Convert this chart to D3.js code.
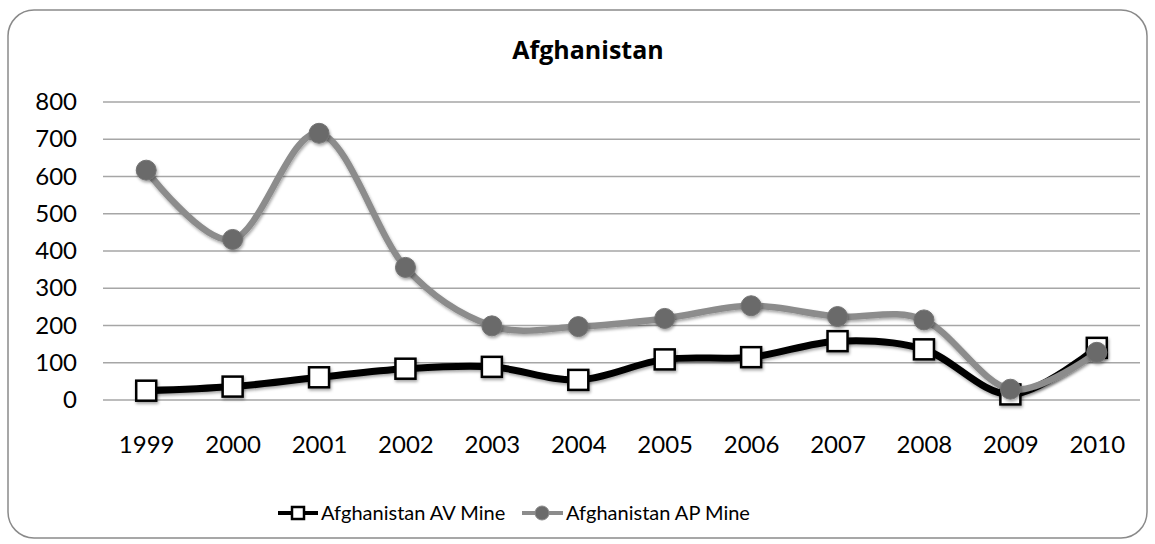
<!DOCTYPE html>
<html>
<head>
<meta charset="utf-8">
<script src="https://cdn.jsdelivr.net/npm/d3@7"></script>
<style>
body { margin:0; background:#fff; }
text { font-family: Lato, "Open Sans", sans-serif; fill:#000; }
</style>
</head>
<body>
<svg id="chart"></svg>
<script>
var screen = {width:1155,height:544}
var margins = {top:102,right:15,left:103,bottom:144}

// data
var years = ["1999","2000","2001","2002","2003","2004","2005","2006","2007","2008","2009","2010"]
var avMine = [25,36,61,84,89,54,109,115,158,136,15,140]
var apMine = [617,431,716,356,199,197,219,253,224,215,29,128]
var yTicks = [0,100,200,300,400,500,600,700,800]
var seriesNames = ["Afghanistan AV Mine","Afghanistan AP Mine"]

var svg = d3.select("#chart")
    .attr("width",screen.width)
    .attr("height",screen.height)

var defs = svg.append("defs")
defs.append("filter")
    .attr("id","shadow")
    .attr("x","-30%").attr("y","-30%")
    .attr("width","160%").attr("height","160%")
    .append("feDropShadow")
    .attr("dx",1).attr("dy",2)
    .attr("stdDeviation",1.8)
    .attr("flood-color","#000")
    .attr("flood-opacity",0.35)

// outer frame
svg.append("rect")
    .attr("x",8).attr("y",10)
    .attr("width",1139).attr("height",528)
    .attr("rx",26).attr("ry",26)
    .attr("fill","#fff")
    .attr("stroke","#8a8a8a")
    .attr("stroke-width",1.5)

svg.append("text")
    .attr("x",588).attr("y",59)
    .attr("text-anchor","middle")
    .style("font-family","'Open Sans', sans-serif")
    .style("font-size","25px")
    .style("font-weight","bold")
    .text("Afghanistan")

var width = 1140 - margins.left
var height = 400 - margins.top

var g = svg.append("g")
    .attr("transform","translate("+margins.left+","+margins.top+")")

var xScale = d3.scalePoint()
    .domain(years)
    .range([0,width])
    .padding(0.5)
var yScale = d3.scaleLinear()
    .domain([0,800])
    .range([height,0])

// gridlines
g.append("g")
    .selectAll("line")
    .data(yTicks)
    .enter()
    .append("line")
    .attr("x1",0).attr("x2",width)
    .attr("y1",function(d){return yScale(d)})
    .attr("y2",function(d){return yScale(d)})
    .attr("stroke","#a6a6a6")
    .attr("stroke-width",1.5)

var yAxis = d3.axisLeft(yScale).tickValues(yTicks).tickSize(0).tickPadding(26)
g.append("g").call(yAxis)
    .call(function(s){s.select(".domain").remove()})
    .selectAll("text").style("font-size","24px").attr("fill","#000")

var xAxis = d3.axisBottom(xScale).tickSize(0).tickPadding(36)
g.append("g")
    .attr("transform","translate(0,"+height+")")
    .call(xAxis)
    .call(function(s){s.select(".domain").remove()})
    .selectAll("text").style("font-size","24px").attr("fill","#000")

var line = d3.line()
    .x(function(d,i){return xScale(years[i])})
    .y(function(d){return yScale(d)})
    .curve(d3.curveCardinal.tension(0))

// AV series
g.append("path")
    .datum(avMine)
    .attr("d",line)
    .attr("fill","none")
    .attr("stroke","#000")
    .attr("stroke-width",7)
    .attr("filter","url(#shadow)")
g.append("g")
    .selectAll("rect")
    .data(avMine)
    .enter()
    .append("rect")
    .attr("x",function(d,i){return xScale(years[i])-10})
    .attr("y",function(d){return yScale(d)-10})
    .attr("width",20).attr("height",20)
    .attr("fill","#fff")
    .attr("stroke","#000")
    .attr("stroke-width",2.5)
    .attr("filter","url(#shadow)")

// AP series
g.append("path")
    .datum(apMine)
    .attr("d",line)
    .attr("fill","none")
    .attr("stroke","#8c8c8c")
    .attr("stroke-width",6.5)
    .attr("filter","url(#shadow)")
g.append("g")
    .selectAll("circle")
    .data(apMine)
    .enter()
    .append("circle")
    .attr("cx",function(d,i){return xScale(years[i])})
    .attr("cy",function(d){return yScale(d)})
    .attr("r",10)
    .attr("fill","#6b6b6b")
    .attr("stroke","#737373")
    .attr("stroke-width",1)
    .attr("filter","url(#shadow)")

// legend
var legendY = 513
var leg1 = svg.append("g")
leg1.append("line")
    .attr("x1",278).attr("x2",318)
    .attr("y1",legendY).attr("y2",legendY)
    .attr("stroke","#000").attr("stroke-width",4)
leg1.append("rect")
    .attr("x",292).attr("y",legendY-6)
    .attr("width",12).attr("height",12)
    .attr("fill","#fff").attr("stroke","#000").attr("stroke-width",2.5)
leg1.append("text")
    .attr("x",321).attr("y",legendY+7)
    .style("font-size","20px")
    .text(seriesNames[0])

var leg2 = svg.append("g")
leg2.append("line")
    .attr("x1",522).attr("x2",563)
    .attr("y1",legendY).attr("y2",legendY)
    .attr("stroke","#8c8c8c").attr("stroke-width",4)
leg2.append("circle")
    .attr("cx",542).attr("cy",legendY)
    .attr("r",7)
    .attr("fill","#6b6b6b").attr("stroke","#8c8c8c").attr("stroke-width",1)
leg2.append("text")
    .attr("x",566).attr("y",legendY+7)
    .style("font-size","20px")
    .text(seriesNames[1])
</script>
</body>
</html>
